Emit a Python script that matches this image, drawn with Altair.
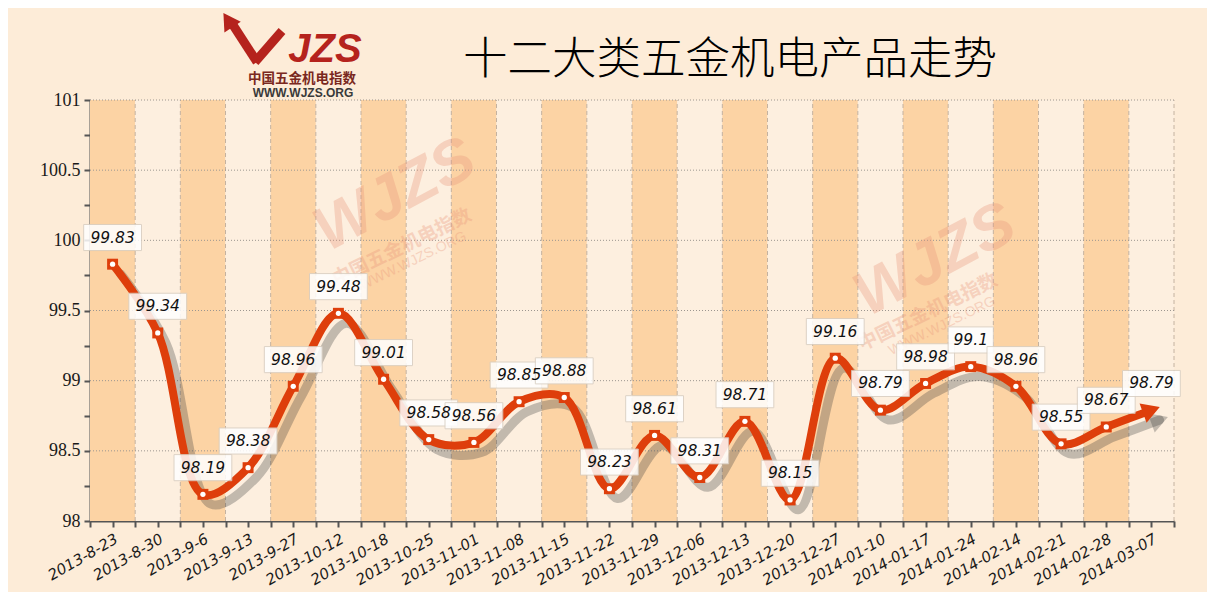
import json
import altair as alt
import pandas as pd

# ---------------- data ----------------
dates = ["2013-8-23", "2013-8-30", "2013-9-6", "2013-9-13", "2013-9-27", "2013-10-12",
         "2013-10-18", "2013-10-25", "2013-11-01", "2013-11-08", "2013-11-15", "2013-11-22",
         "2013-11-29", "2013-12-06", "2013-12-13", "2013-12-20", "2013-12-27", "2014-01-10",
         "2014-01-17", "2014-01-24", "2014-02-14", "2014-02-21", "2014-02-28", "2014-03-07"]
values = [99.83, 99.34, 98.19, 98.38, 98.96, 99.48,
          99.01, 98.58, 98.56, 98.85, 98.88, 98.23,
          98.61, 98.31, 98.71, 98.15, 99.16, 98.79,
          98.98, 99.1, 98.96, 98.55, 98.67, 98.79]
grid_values = [98.5, 99, 99.5, 100, 100.5, 101]
y_tick_values = [98, 98.25, 98.5, 98.75, 99, 99.25, 99.5, 99.75, 100, 100.25, 100.5, 100.75, 101]
x_tick_values = [i * 0.5 - 0.5 for i in range(49)]
title_text = "十二大类五金机电产品走势"

W, H = 1084, 421
ORANGE_BAND = "#FCD3A4"
LIGHT_BAND = "#FDEFDF"
LINE_RED = "#DE3E0B"
LOGO_RED = "#B5231D"
BG = "#FDECD8"

df = pd.DataFrame({
    "idx": list(range(len(dates))),
    "date": dates,
    "value": values,
    "label": [str(v) for v in values],
})
last = len(dates) - 1

x_scale = alt.Scale(domain=[-0.5, last + 0.5], nice=False, zero=False)
y_scale = alt.Scale(domain=[98, 101], nice=False, zero=False)

x_label_expr = f"datum.value % 1 == 0 ? {json.dumps(dates)}[datum.value] : ''"
y_label_expr = "(datum.value * 2) % 1 == 0 ? format(datum.value, '~g') : ''"

X_AXIS = alt.Axis(
    values=x_tick_values, labelExpr=x_label_expr, labelAngle=330,
    labelAlign="right", labelBaseline="top", labelPadding=4,
    labelFont="DejaVu Sans", labelFontStyle="italic", labelFontSize=15, labelColor="#1a1a1a",
    tickSize=6, tickWidth=2, tickColor="#555", domainColor="#555", domainWidth=2,
    grid=False, labelOverlap=False, labelFlush=False, title=None)
Y_AXIS = alt.Axis(
    values=y_tick_values, labelExpr=y_label_expr, labelFont="Liberation Serif",
    labelFontSize=18, labelColor="#1a1a1a", labelPadding=4,
    tickSize=6, tickWidth=2, tickColor="#555", domainColor="#555", domainWidth=2,
    grid=False, labelOverlap=False, labelFlush=False, title=None)


def X(field):
    return alt.X(field, type="quantitative", scale=x_scale, axis=X_AXIS, title=None)


def Y(field):
    return alt.Y(field, type="quantitative", scale=y_scale, axis=Y_AXIS, title=None)


base = alt.Chart(df)

# background bands
bands = base.transform_calculate(
    x0="datum.idx - 0.5", x1="datum.idx + 0.5", parity="datum.idx % 2", ymin="98", ymax="101"
).mark_rect().encode(
    x=X("x0"), x2="x1:Q",
    y=Y("ymin"), y2="ymax:Q",
    color=alt.Color("parity:N", scale=alt.Scale(domain=[0, 1], range=[ORANGE_BAND, LIGHT_BAND]), legend=None),
)

# vertical dashed separators
vlines = base.transform_calculate(b="datum.idx + 0.5", ymin="98", ymax="101").mark_rule(
    color="#C4B2A0", strokeDash=[4, 3], strokeWidth=1
).encode(x=X("b"), y=Y("ymin"), y2="ymax:Q")

# horizontal dotted grid
grid = alt.Chart(pd.DataFrame({"g": grid_values, "x0": [-0.5] * len(grid_values),
                               "x1": [last + 0.5] * len(grid_values)})).mark_rule(
    color="#9C9690", strokeDash=[1, 2], strokeWidth=1
).encode(y=Y("g"), x=X("x0"), x2="x1:Q")

# watermarks
wm_color = "#E8957A"
wm = []
for (x, y, txt, size, ang, wt) in [
    (305, 95, "WJZS", 62, 332, "bold"),
    (312, 147, "中国五金机电指数", 19, 334, "bold"),
    (323, 161, "WWW.WJZS.ORG", 14, 334, "normal"),
    (845, 160, "WJZS", 62, 332, "bold"),
    (838, 212, "中国五金机电指数", 19, 334, "bold"),
    (852, 226, "WWW.WJZS.ORG", 14, 334, "normal"),
]:
    wm.append(alt.Chart(pd.DataFrame({"t": [txt]})).mark_text(
        font="Liberation Sans" if txt.isascii() else "Noto Sans CJK SC",
        fontSize=size, fontWeight=wt, fontStyle="italic" if txt == "WJZS" else "normal",
        angle=ang, color=wm_color, opacity=0.33, align="center", baseline="middle"
    ).encode(text="t:N", x=alt.value(x), y=alt.value(y)))

# shadow of the line
shadow = base.transform_calculate(sx="datum.idx + 0.18", sy="datum.value - 0.07").mark_line(
    interpolate="catmull-rom", strokeWidth=9, color="#3a3a3a", opacity=0.3, strokeCap="round"
).encode(x=X("sx"), y=Y("sy"))

shadow_arrow = base.transform_filter(f"datum.idx == {last}").transform_calculate(
    sx="datum.idx + 0.18", sy="datum.value - 0.07"
).mark_point(shape="triangle-right", filled=True, size=420, angle=340, color="#3a3a3a", opacity=0.3).encode(
    x=X("sx"), y=Y("sy"))

line = base.mark_line(
    interpolate="catmull-rom", strokeWidth=8, color=LINE_RED, strokeCap="round"
).encode(x=X("idx"), y=Y("value"))

arrow = base.transform_filter(f"datum.idx == {last}").mark_point(
    shape="triangle-right", filled=True, size=420, angle=340, color=LINE_RED, opacity=1
).encode(x=X("idx"), y=Y("value"))

pts_sq = base.transform_filter(f"datum.idx < {last}").mark_point(
    shape="square", filled=True, size=120, color=LINE_RED, opacity=1
).encode(x=X("idx"), y=Y("value"))
pts_dot = base.transform_filter(f"datum.idx < {last}").mark_point(
    shape="circle", filled=True, size=28, color="white", opacity=1
).encode(x=X("idx"), y=Y("value"))

# label boxes and texts
boxes = base.transform_calculate(
    w="length(datum.label) >= 5 ? 0.64 : 0.5",
    bx0="datum.idx - datum.w", bx1="datum.idx + datum.w",
    by0="datum.value + 0.097", by1="datum.value + 0.283",
).mark_rect(fill="white", opacity=0.85, stroke="#D8CEC2", strokeWidth=1).encode(
    x=X("bx0"), x2="bx1:Q", y=Y("by0"), y2="by1:Q")

texts = base.transform_calculate(ly="datum.value + 0.19").mark_text(
    font="DejaVu Sans", fontStyle="italic", fontSize=15.5, color="#111",
    align="center", baseline="middle"
).encode(x=X("idx"), y=Y("ly"), text="label:N")

one = pd.DataFrame({"t": [1]})

# title and logo
deco = [
    alt.Chart(pd.DataFrame({"t": [title_text]})).mark_text(
        font="Noto Sans CJK SC", fontSize=44.5, fontWeight=300,
        color="#000", align="center", baseline="middle"
    ).encode(text="t:N", x=alt.value(640), y=alt.value(-39)),
    # logo arrow + V stroke
    alt.Chart(one).mark_rule(color=LOGO_RED, strokeWidth=9).encode(
        x=alt.value(143), y=alt.value(-75), x2=alt.value(167), y2=alt.value(-38)),
    alt.Chart(one).mark_rule(color=LOGO_RED, strokeWidth=9).encode(
        x=alt.value(165), y=alt.value(-38), x2=alt.value(192), y2=alt.value(-69)),
    alt.Chart(one).mark_point(
        shape="triangle-up", filled=True, size=380, angle=327, color=LOGO_RED, opacity=1
    ).encode(x=alt.value(138), y=alt.value(-80)),
    alt.Chart(pd.DataFrame({"t": ["JZS"]})).mark_text(
        font="Liberation Sans", fontSize=40, fontWeight="bold", fontStyle="italic",
        color=LOGO_RED, align="center", baseline="alphabetic"
    ).encode(text="t:N", x=alt.value(235), y=alt.value(-38)),
    alt.Chart(pd.DataFrame({"t": ["中国五金机电指数"]})).mark_text(
        font="Noto Sans CJK SC", fontSize=13.5, fontWeight="bold",
        color="#7A2820", align="center", baseline="middle"
    ).encode(text="t:N", x=alt.value(212), y=alt.value(-21)),
    alt.Chart(pd.DataFrame({"t": ["WWW.WJZS.ORG"]})).mark_text(
        font="Liberation Sans", fontSize=12, fontWeight="bold",
        color="#3a3a3a", align="center", baseline="middle"
    ).encode(text="t:N", x=alt.value(213), y=alt.value(-7)),
]

chart = alt.layer(
    bands, vlines, grid, *wm, shadow, shadow_arrow, line, arrow, pts_sq, pts_dot, boxes, texts, *deco
).properties(
    width=W, height=H,
    autosize=alt.AutoSizeParams(type="none"),
    padding={"left": 82, "top": 92, "right": 33, "bottom": 71},
).configure(background=BG).configure_view(stroke=None)

chart.save("out.html", embed_options={"renderer": "svg", "actions": False})
